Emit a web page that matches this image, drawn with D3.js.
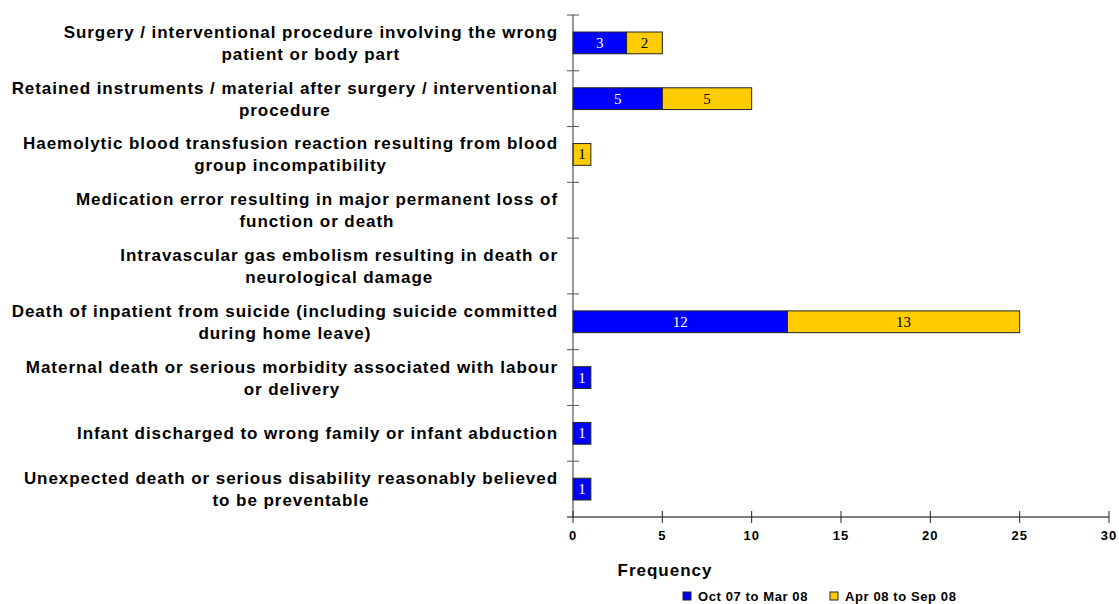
<!DOCTYPE html>
<html>
<head>
<meta charset="utf-8">
<script src="https://cdn.jsdelivr.net/npm/d3@7"></script>
<style>
  body { margin: 0; background: #fff; }
  svg text { font-family: "Liberation Sans", Arial, sans-serif; }
</style>
</head>
<body>
<div id="chart"></div>
<script>
// categories, each label split into its two printed lines
const categories = [
  ["Surgery / interventional procedure involving the wrong", "patient or body part"],
  ["Retained instruments / material after surgery / interventional", "procedure"],
  ["Haemolytic blood transfusion reaction resulting from blood", "group incompatibility"],
  ["Medication error resulting in major permanent loss of", "function or death"],
  ["Intravascular gas embolism resulting in death or", "neurological damage"],
  ["Death of inpatient from suicide (including suicide committed", "during home leave)"],
  ["Maternal death or serious morbidity associated with labour", "or delivery"],
  ["Infant discharged to wrong family or infant abduction"],
  ["Unexpected death or serious disability reasonably believed", "to be preventable"]
];
const seriesNames = ["Oct 07 to Mar 08", "Apr 08 to Sep 08"];
const octToMar = [3, 5, 0, 0, 0, 12, 1, 1, 1];
const aprToSep = [2, 5, 1, 0, 0, 13, 0, 0, 0];
const xTicks = [0, 5, 10, 15, 20, 25, 30];
const colors = ["#0000ff", "#ffcc00"];

const svgWidth = 1119, svgHeight = 604;
const margin = { top: 15, left: 573, right: 10 };
const plotBottom = 517;

const svg = d3.select("#chart").append("svg")
    .attr("width", svgWidth)
    .attr("height", svgHeight);

const x = d3.scaleLinear().domain([0, 30]).range([margin.left, 1109]);
const y = d3.scaleBand()
    .domain(d3.range(categories.length))
    .range([margin.top, plotBottom])
    .paddingInner(0.61)
    .paddingOuter(0.305);

// stack the two periods
const rows = categories.map((c, i) => ({ i, a: octToMar[i], b: aprToSep[i] }));
const stack = d3.stack().keys(["a", "b"])(rows);

const layers = svg.selectAll("g.layer")
    .data(stack)
    .join("g")
    .attr("class", "layer");

layers.each(function(layer, k) {
    const g = d3.select(this);
    const segs = layer.filter(d => d[1] - d[0] > 0);
    g.selectAll("rect")
        .data(segs)
        .join("rect")
        .attr("x", d => x(d[0]))
        .attr("y", d => y(d.data.i))
        .attr("width", d => x(d[1]) - x(d[0]))
        .attr("height", y.bandwidth())
        .attr("fill", colors[k])
        .attr("stroke", "#222")
        .attr("stroke-width", 1);
    g.selectAll("text")
        .data(segs)
        .join("text")
        .attr("x", d => (x(d[0]) + x(d[1])) / 2)
        .attr("y", d => y(d.data.i) + y.bandwidth() / 2 + 5)
        .attr("text-anchor", "middle")
        .style("font-family", "'Liberation Serif', 'Times New Roman', serif")
        .style("font-size", "15px")
        .attr("fill", k === 0 ? "#fff" : "#000")
        .text(d => d[1] - d[0]);
});

// y axis with ticks on category boundaries
const axisColor = "#555";
svg.append("line")
    .attr("x1", x(0)).attr("x2", x(0))
    .attr("y1", margin.top).attr("y2", plotBottom)
    .attr("stroke", "#333");
const step = y.step();
svg.selectAll("line.ytick")
    .data(d3.range(categories.length))
    .join("line")
    .attr("class", "ytick")
    .attr("x1", x(0) - 6).attr("x2", x(0) + 6)
    .attr("y1", i => margin.top + i * step)
    .attr("y2", i => margin.top + i * step)
    .attr("stroke", axisColor);

// x axis
svg.append("line")
    .attr("x1", x(0) - 6).attr("x2", x(30))
    .attr("y1", plotBottom).attr("y2", plotBottom)
    .attr("stroke", axisColor)
    .attr("stroke-width", 1.5);
svg.selectAll("line.xtick")
    .data(xTicks)
    .join("line")
    .attr("class", "xtick")
    .attr("x1", d => x(d)).attr("x2", d => x(d))
    .attr("y1", plotBottom - 6).attr("y2", plotBottom + 6)
    .attr("stroke", "#222");
svg.selectAll("text.xlabel")
    .data(xTicks)
    .join("text")
    .attr("class", "xlabel")
    .attr("x", d => x(d))
    .attr("y", 540)
    .attr("text-anchor", "middle")
    .style("font-size", "13px")
    .style("font-weight", "bold")
    .style("letter-spacing", "1px")
    .text(d => d);

// category labels: lines centred on each other, block right-aligned
const labelRight = 558, lineGap = 22;
categories.forEach((lines, i) => {
    const g = svg.append("g");
    const cy = y(i) + y.bandwidth() / 2;
    const texts = lines.map((t, j) => g.append("text")
        .attr("y", cy + (j - (lines.length - 1) / 2) * lineGap + 6)
        .style("font-size", "17px")
        .style("font-weight", "bold")
        .style("letter-spacing", "0.95px")
        .attr("text-anchor", "middle")
        .text(t));
    const maxW = d3.max(texts, t => t.node().getComputedTextLength());
    texts.forEach(t => t.attr("x", labelRight - maxW / 2));
});

// axis title
svg.append("text")
    .attr("x", 665).attr("y", 576)
    .attr("text-anchor", "middle")
    .style("font-size", "17px")
    .style("font-weight", "bold")
    .style("letter-spacing", "1px")
    .text("Frequency");

// legend
const legend = svg.append("g").attr("transform", "translate(683,591)");
const legendX = [0, 147];
seriesNames.forEach((name, k) => {
    const item = legend.append("g").attr("transform", `translate(${legendX[k]},0)`);
    item.append("rect")
        .attr("width", 8).attr("height", 8)
        .attr("y", 1)
        .attr("fill", colors[k])
        .attr("stroke", "#222");
    item.append("text")
        .attr("x", 15).attr("y", 10)
        .style("font-size", "13px")
        .style("font-weight", "bold")
        .style("letter-spacing", "0.6px")
        .text(name);
});
</script>
</body>
</html>
